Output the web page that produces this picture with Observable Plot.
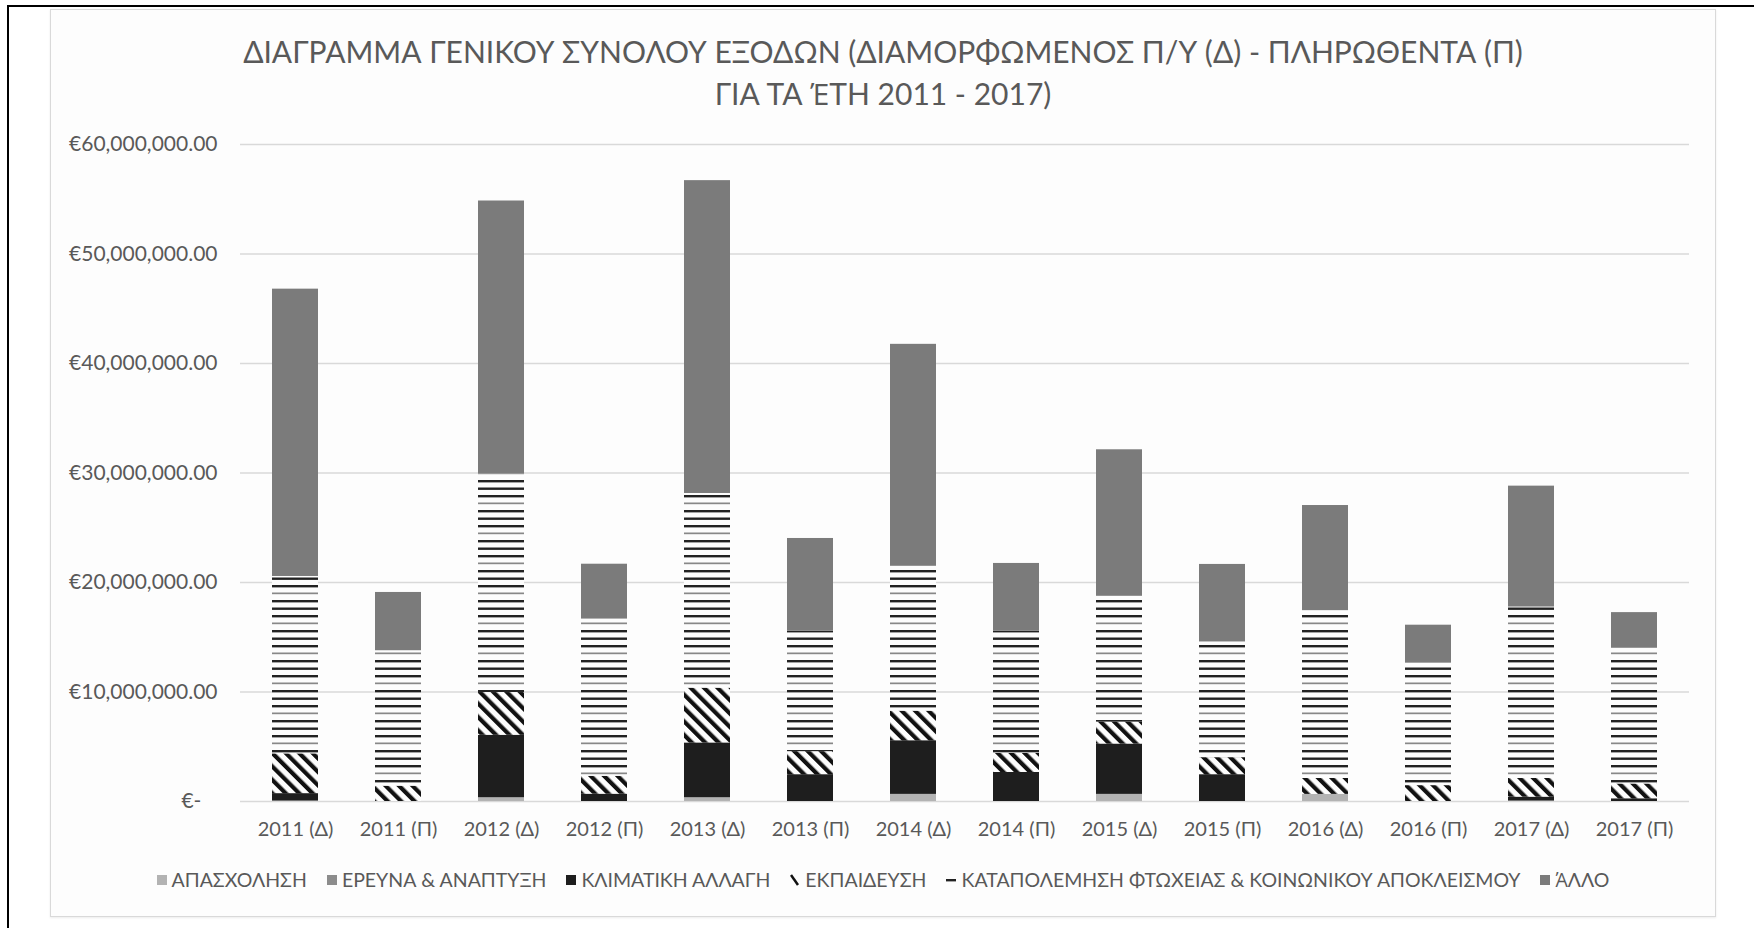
<!DOCTYPE html>
<html>
<head>
<meta charset="utf-8">
<script src="https://cdn.jsdelivr.net/npm/d3@7"></script>
<script src="https://cdn.jsdelivr.net/npm/@observablehq/plot@0.6"></script>
<style>
html,body{margin:0;padding:0;background:#fff;}
#frame{position:relative;width:1754px;height:928px;overflow:hidden;font-family:Lato,"Open Sans",sans-serif;}
#topline{position:absolute;left:7px;top:5px;width:1747px;height:2px;background:#000;}
#leftline{position:absolute;left:7px;top:5px;width:2px;height:923px;background:#000;}
#box{position:absolute;left:50px;top:9px;width:1664px;height:906px;border:1px solid #d9d9d9;background:#fdfdfd;box-shadow:0 1px 2px rgba(0,0,0,0.08);}
#title{position:absolute;left:50px;width:1666px;top:30px;text-align:center;color:#595959;font-size:30px;line-height:42px;}
#chart{position:absolute;left:0;top:0;}
#legend{position:absolute;left:50px;width:1666px;top:867px;display:flex;justify-content:center;align-items:center;gap:20px;color:#595959;font-size:19.5px;line-height:26px;white-space:nowrap;}
#legend .item{display:flex;align-items:center;gap:5px;}
#legend svg{display:block;}
.os{font-family:"Open Sans",sans-serif;}
</style>
</head>
<body>
<div id="frame">
  <div id="box"></div>
  <div id="topline"></div>
  <div id="leftline"></div>
  <div id="title">ΔΙΑΓΡΑΜΜΑ ΓΕΝΙΚΟΥ ΣΥΝΟΛΟΥ ΕΞΟΔΩΝ (ΔΙΑΜΟΡΦΩΜΕΝΟΣ Π/Υ (Δ) - ΠΛΗΡΩΘΕΝΤΑ (Π)<br>ΓΙΑ ΤΑ <span class="os">Έ</span>ΤΗ 2011 - 2017)</div>
  <div id="chart"></div>
  <div id="legend"></div>
</div>
<script>
// Categories (x axis tick labels)
const categories = ["2011 (Δ)","2011 (Π)","2012 (Δ)","2012 (Π)","2013 (Δ)","2013 (Π)","2014 (Δ)","2014 (Π)","2015 (Δ)","2015 (Π)","2016 (Δ)","2016 (Π)","2017 (Δ)","2017 (Π)"];

// Series names (stack order, bottom to top)
const seriesNames = ["ΑΠΑΣΧΟΛΗΣΗ","ΕΡΕΥΝΑ & ΑΝΑΠΤΥΞΗ","ΚΛΙΜΑΤΙΚΗ ΑΛΛΑΓΗ","ΕΚΠΑΙΔΕΥΣΗ","ΚΑΤΑΠΟΛΕΜΗΣΗ ΦΤΩΧΕΙΑΣ & ΚΟΙΝΩΝΙΚΟΥ ΑΠΟΚΛΕΙΣΜΟΥ","ΆΛΛΟ"];

// Series values in euros
const apasxolisi = [0, 0, 300000, 0, 300000, 0, 600000, 0, 600000, 0, 600000, 0, 0, 0];
const erevna     = [50000, 0, 50000, 0, 50000, 0, 50000, 0, 50000, 0, 50000, 0, 50000, 0];
const klimatiki  = [670000, 0, 5700000, 670000, 5000000, 2450000, 4900000, 2650000, 4600000, 2450000, 0, 0, 350000, 250000];
const ekpaideusi = [3630000, 1400000, 3900000, 1630000, 5000000, 2100000, 2700000, 1750000, 2000000, 1550000, 1450000, 1450000, 1700000, 1350000];
const ftoxeia    = [16200000, 12370000, 19950000, 14360000, 17780000, 11000000, 13230000, 11150000, 11490000, 10570000, 15330000, 11200000, 15660000, 12400000];
const allo       = [26240000, 5320000, 24940000, 5010000, 28570000, 8470000, 20270000, 6190000, 13380000, 7080000, 9600000, 3450000, 11040000, 3250000];

// Y axis ticks
const yTicks = [0, 10000000, 20000000, 30000000, 40000000, 50000000, 60000000];

const seriesValues = [apasxolisi, erevna, klimatiki, ekpaideusi, ftoxeia, allo];
const fills = ["#b3b3b3", "#8c8c8c", "#1e1e1e", "url(#pat-diag)", "url(#pat-hline)", "#7b7b7b"];

const table = [];
categories.forEach((c, i) => {
  seriesNames.forEach((s, j) => {
    table.push({cat: c, series: s, value: seriesValues[j][i]});
  });
});

const fmt = d3.format(",.2f");
const chart = Plot.plot({
  width: 1754,
  height: 860,
  marginLeft: 240,
  marginRight: 65,
  marginTop: 144,
  marginBottom: 59,
  style: "background:transparent;overflow:visible;font-family:Lato,'Open Sans',sans-serif;",
  x: {domain: categories, paddingInner: 0.555, paddingOuter: 0.2775, label: null},
  y: {domain: [0, 60000000], label: null},
  color: {type: "ordinal", domain: seriesNames, range: fills},
  marks: [
    Plot.gridY(yTicks, {stroke: "#d9d9d9", strokeOpacity: 1, strokeWidth: 1.3}),
    Plot.barY(table, {x: "cat", y: "value", fill: "series", inset: 0}),
    Plot.axisY(yTicks, {tickSize: 0, tickPadding: 23, fontSize: 21, fill: "#595959",
      tickFormat: d => d === 0 ? "€-\u00a0\u00a0\u00a0" : "€" + fmt(d)}),
    Plot.axisX({tickSize: 0, tickPadding: 20, fontSize: 20, fill: "#595959"})
  ]
});

// patterns
const svg = d3.select(chart.tagName.toLowerCase() === "svg" ? chart : chart.querySelector("svg"));
const defs = svg.insert("defs", ":first-child");
const ph = defs.append("pattern").attr("id", "pat-hline").attr("patternUnits", "userSpaceOnUse")
  .attr("width", 10).attr("height", 30);
ph.append("rect").attr("width", 10).attr("height", 30).attr("fill", "#fdfdfd");
[[0, "#222", 2.4], [7.5, "#222", 2.4], [15, "#222", 2.4], [22.5, "#888", 1.7]].forEach(([y, c, h]) => {
  ph.append("rect").attr("x", 0).attr("y", y).attr("width", 10).attr("height", h).attr("fill", c);
});
const pd = defs.append("pattern").attr("id", "pat-diag").attr("patternUnits", "userSpaceOnUse")
  .attr("width", 9.5).attr("height", 9.5).attr("patternTransform", "rotate(-45)");
pd.append("rect").attr("width", 9.5).attr("height", 9.5).attr("fill", "#fdfdfd");
pd.append("rect").attr("x", 0).attr("y", 0).attr("width", 4.2).attr("height", 9.5).attr("fill", "#111");

document.getElementById("chart").appendChild(chart);

// legend
const legend = document.getElementById("legend");
seriesNames.forEach((s, j) => {
  const item = document.createElement("div");
  item.className = "item";
  let sw;
  if (j === 3) {
    sw = `<svg width="10" height="12"><line x1="1" y1="1" x2="8" y2="11" stroke="#111" stroke-width="2.5"/></svg>`;
  } else if (j === 4) {
    sw = `<svg width="10" height="12"><rect x="0" y="5" width="10" height="2.4" fill="#222"/></svg>`;
  } else {
    sw = `<svg width="10" height="12"><rect x="0" y="1" width="10" height="10" fill="${fills[j]}"/></svg>`;
  }
  const label = s.startsWith("Ά") ? `<span class="os">Ά</span>${s.slice(1)}` : s;
  item.innerHTML = sw + `<span>${label}</span>`;
  legend.appendChild(item);
});
</script>
</body>
</html>
